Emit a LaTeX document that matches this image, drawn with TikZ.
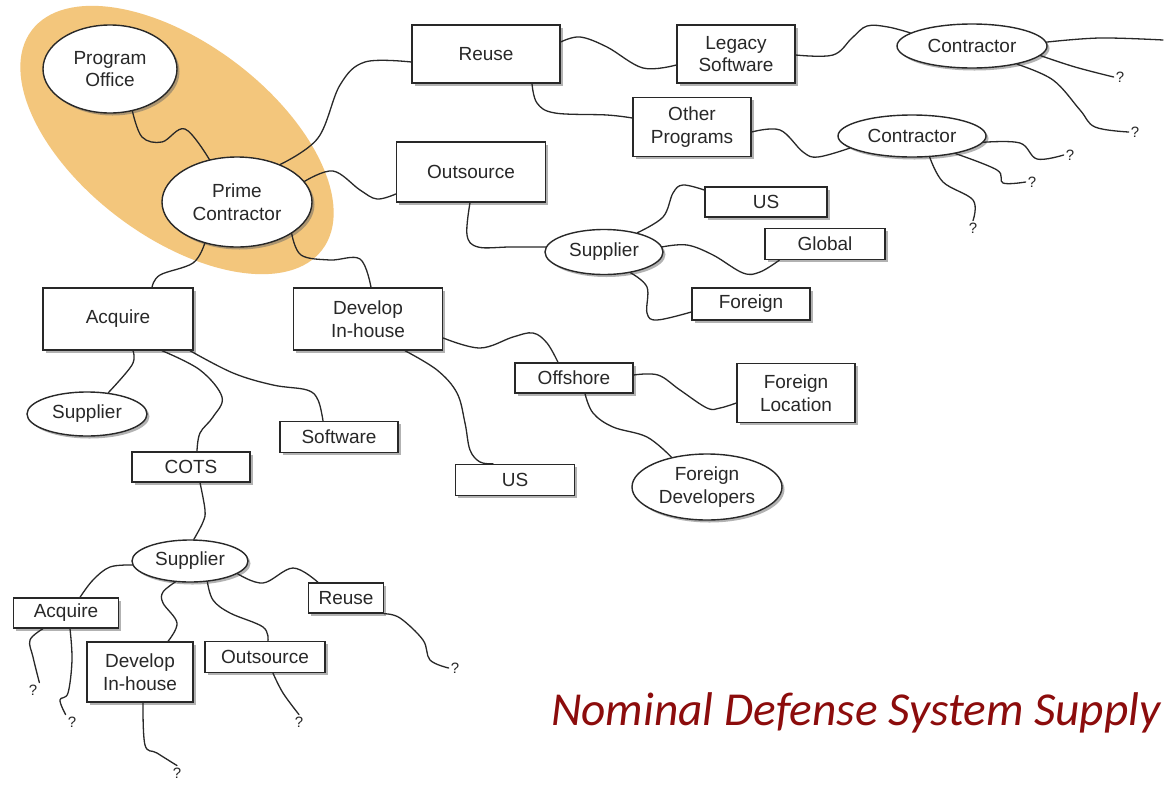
\documentclass[tikz,border=0pt]{standalone}
\usepackage{fontspec}
\setmainfont{Liberation Sans}
\newfontfamily\titlefont{Carlito}
\usetikzlibrary{shapes.geometric,shadows}

\definecolor{hlorange}{RGB}{243,198,124}
\definecolor{titlered}{RGB}{140,12,12}
\definecolor{inkgray}{RGB}{40,40,40}

\begin{document}
\begin{tikzpicture}[x=1pt,y=-1pt,
  base/.style={draw=inkgray, line width=1.4pt, fill=white, text=inkgray,
    inner sep=0pt, align=center, font=\fontsize{19}{22.5}\selectfont,
    drop shadow={shadow xshift=2.5pt, shadow yshift=-2.5pt, fill=black!60, opacity=0.5}},
  box/.style 2 args={base, rectangle, minimum width=#1pt, minimum height=#2pt},
  oval/.style 2 args={base, ellipse, minimum width=#1pt, minimum height=#2pt},
  qmark/.style={inner sep=2pt, text=inkgray, font=\fontsize{15}{15}\selectfont},
  conn/.style={draw=inkgray, line width=1.3pt, line cap=round},
  wavy/.style={smooth, tension=0.6},
]
\useasboundingbox (0,0) rectangle (1167,785);
\clip (0,0) rectangle (1167,785);
\fill[white] (0,0) rectangle (1167,785);

% highlighted government / prime pair
\fill[hlorange, rotate around={-37:(177,140)}] (177,140) ellipse [x radius=182pt, y radius=97pt];

% ---- nodes ----
\node[oval={134}{88}] (po) at (110,69) {Program\\Office};
\node[oval={150}{90}] (pc) at (237,202) {Prime\\Contractor};

\node[box={148}{58}] (reuse) at (486,54) {Reuse};
\node[box={118}{58}] (legacy) at (736,54) {Legacy\\Software};
\node[box={118}{59}] (other) at (692,127) {Other\\Programs};
\node[oval={150}{44}] (con1) at (972,46) {Contractor};
\node[oval={148}{42}] (con2) at (912,136) {Contractor};
\coordinate (e1) at (1163,40);

\node[box={149}{60}] (outs) at (471,172) {Outsource};
\node[oval={118}{45}] (sup1) at (604,252) {Supplier};
\node[box={122}{30}] (us1) at (766,202) {US};
\node[box={120}{31}] (glob) at (825,244) {Global};
\node[box={118}{32}] (forn) at (751,304) {Foreign};

\node[box={150}{62}] (acq) at (118,319) {Acquire};
\node[box={149}{62}] (dev) at (368,319) {Develop\\In-house};
\node[box={118}{30}] (offs) at (574,378) {Offshore};
\node[box={118}{59}] (floc) at (796,393) {Foreign\\Location};
\node[oval={150}{66}] (fdev) at (707,487) {Foreign\\Developers};
\node[box={119}{31}] (us2) at (515,480) {US};
\node[box={118}{31}] (soft) at (339,437) {Software};
\node[oval={120}{44}] (sup2) at (87,414) {Supplier};
\node[box={118}{30}] (cots) at (191,467) {COTS};

\node[oval={116}{42}] (sup3) at (190,561) {Supplier};
\node[box={105}{30}] (acq2) at (66,613) {Acquire};
\node[box={106}{60}] (dev2) at (140,672) {Develop\\In-house};
\node[box={120}{31}] (outs2) at (265,657) {Outsource};
\node[box={75}{30}] (reuse2) at (346,598) {Reuse};

\node[qmark] (q1) at (1120,77) {?};
\node[qmark] (q2) at (1135,132) {?};
\node[qmark] (q3) at (1070,155) {?};
\node[qmark] (q4) at (1032,182) {?};
\node[qmark] (q5) at (973,228) {?};
\node[qmark] (q6) at (33,690) {?};
\node[qmark] (q7) at (72,722) {?};
\node[qmark] (q8) at (177,773) {?};
\node[qmark] (q9) at (299,722) {?};
\node[qmark] (q10) at (455,668) {?};

\node[anchor=base west, inner sep=0pt, text=titlered,
  font=\titlefont\itshape\fontsize{47.3}{52}\selectfont] (title) at (551,725)
  {Nominal Defense System Supply};

% ---- connectors ----
\draw[conn] plot[wavy] coordinates {(po.-62) (142,137) (162,142) (185,129) (pc.123)};
\draw[conn] plot[wavy] coordinates {(pc.41) (318,138) (340,85) (365,62) ([yshift=-8pt]reuse.west)};
\draw[conn] plot[wavy] coordinates {(pc.17) (333,171) (360,190) (377,199) ([yshift=-22pt]outs.west)};
\draw[conn] plot[wavy] coordinates {(pc.-128) (193,263) (160,275) ([xshift=34pt]acq.north)};
\draw[conn] plot[wavy] coordinates {(pc.-30) (301,255) (330,260) (360,259) ([xshift=3pt]dev.north)};

\draw[conn] plot[wavy] coordinates {([yshift=12pt]reuse.east) (580,37) (607,47) (643,68) ([yshift=-11pt]legacy.west)};
\draw[conn] plot[wavy] coordinates {([xshift=46pt]reuse.south) (537,103) (555,113) (607,115) ([yshift=9pt]other.west)};
\draw[conn] plot[wavy] coordinates {([yshift=-1pt]legacy.east) (833,55) (852,38) (867,26) (888,27) (con1.168)};
\draw[conn] plot[wavy] coordinates {(con1.3) (1100,38) (e1)};
\draw[conn] plot[wavy] coordinates {(con1.-8) (1075,67) (q1.west)};
\draw[conn] plot[wavy] coordinates {(con1.-22) (1053,80) (1080,110) (1095,127) (q2.west)};
\draw[conn] plot[wavy] coordinates {([yshift=-5pt]other.east) (780,130) (803,152) (818,157) (con2.191)};
\draw[conn] plot[wavy] coordinates {(con2.-5) (1020,143) (1037,159) (q3.west)};
\draw[conn] plot[wavy] coordinates {(con2.-22) (997,170) (1003,183) (q4.west)};
\draw[conn] plot[wavy] coordinates {(con2.-50) (943,182) (973,200) (q5.north)};

\draw[conn] plot[wavy] coordinates {([xshift=-1pt]outs.south) (467,235) (478,247) (510,247) (sup1.175)};
\draw[conn] plot[wavy] coordinates {(sup1.30) (663,217) (673,193) (683,185) ([yshift=12pt]us1.west)};
\draw[conn] plot[wavy] coordinates {(sup1.5) (687,245) (713,255) (743,273) (760,272) ([xshift=15pt]glob.south west)};
\draw[conn] plot[wavy] coordinates {(sup1.-38) (647,287) (647,313) (657,320) ([yshift=-8pt]forn.west)};

\draw[conn] plot[wavy] coordinates {([xshift=15pt]acq.south) (132,365) (sup2.45)};
\draw[conn] plot[wavy] coordinates {([xshift=44pt]acq.south) (200,370) (222,397) (213,417) (200,433) ([xshift=6pt]cots.north)};
\draw[conn] plot[wavy] coordinates {([xshift=72pt]acq.south) (233,373) (273,385) (307,390) (318,400) ([xshift=-16pt]soft.north)};
\draw[conn] plot[wavy] coordinates {([xshift=9pt]cots.south) (205,510) (203,522) (sup3.80)};

\draw[conn] plot[wavy] coordinates {([yshift=-19pt]dev.east) (480,348) (513,337) (533,333) (547,343) ([xshift=-16pt]offs.north)};
\draw[conn] plot[wavy] coordinates {([xshift=37pt]dev.south) (437,370) (457,393) (465,423) (470,450) (480,462) ([xshift=-22pt]us2.north)};
\draw[conn] plot[wavy] coordinates {([xshift=11pt]offs.south) (593,413) (613,427) (647,437) (fdev.140)};
\draw[conn] plot[wavy] coordinates {([yshift=3pt]offs.east) (658,375) (680,390) (707,408) (720,408) ([yshift=-10pt]floc.west)};

\draw[conn] plot[wavy] coordinates {(sup3.184) (110,567) (93,580) ([xshift=14pt]acq2.north)};
\draw[conn] plot[wavy] coordinates {(sup3.-125) (163,592) (163,603) (177,623) ([xshift=28pt]dev2.north)};
\draw[conn] plot[wavy] coordinates {(sup3.-50) (213,600) (230,613) (263,627) ([xshift=3pt]outs2.north)};
\draw[conn] plot[wavy] coordinates {(sup3.-15) (263,583) (293,568) ([xshift=-28pt]reuse2.north)};

\draw[conn] plot[wavy] coordinates {([xshift=-23pt]acq2.south) (30,640) (33,657) (q6.north east)};
\draw[conn] plot[wavy] coordinates {([xshift=4pt]acq2.south) (72,660) (68,693) (60,700) (q7.north west)};
\draw[conn] plot[wavy] coordinates {([xshift=3pt]dev2.south) (145,745) (157,753) (q8.north)};
\draw[conn] plot[wavy] coordinates {([xshift=8pt]outs2.south) (283,693) (q9.north)};
\draw[conn] plot[wavy] coordinates {(reuse2.south east) (400,618) (423,640) (430,660) (q10.west)};
\end{tikzpicture}
\end{document}
